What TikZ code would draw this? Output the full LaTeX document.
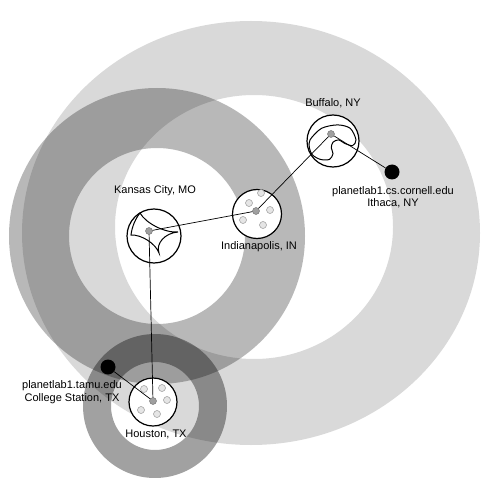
\documentclass[tikz,border=0pt]{standalone}
\usepackage{fontspec}
\setmainfont{Liberation Sans}
\begin{document}
\begin{tikzpicture}[x=1pt,y=-1pt,
  ring/.style={fill=black, even odd rule},
  site/.style={circle, draw, fill=white, line width=1.2pt, inner sep=0pt},
  hub/.style={circle, draw=gray!85!black, fill=gray!75, line width=0.4pt, minimum size=7pt, inner sep=0pt},
  probe/.style={circle, draw=gray!80, fill=gray!20, line width=0.5pt, minimum size=7pt, inner sep=0pt},
  landmark/.style={circle, fill=black, minimum size=15pt, inner sep=0pt},
  lbl/.style={align=center, font=\fontsize{11}{12.5}\selectfont, inner sep=0pt},
  link/.style={line width=0.7pt}]
\useasboundingbox (0,0) rectangle (481,478);

% distance constraint rings
\fill[ring, fill opacity=0.15] (251,233) ellipse [x radius=229, y radius=212]
  (254,227) ellipse [x radius=139, y radius=132];
\fill[ring, fill opacity=0.28] (157,236) circle [radius=148] (157,236) circle [radius=88];
\fill[ring, fill opacity=0.37] (155,406) circle [radius=72] (155,406) circle [radius=44];

% Buffalo
\node[site, minimum size=52pt] (buffalo) at (333,141) {};
\draw[line width=1pt, scale around={1.15:(333,141)}] plot[smooth cycle] coordinates {(313,140) (323,130) (337,127)
  (348,130) (353,140) (350,145) (343,143) (338,140) (333,142) (331.5,147) (333,152)
  (330,157) (322,157) (315,153) (312.5,147)};
\node[hub] (bufhub) at (331,134) {};
\node[lbl] (buflbl) at (333,103) {Buffalo, NY};

% Indianapolis
\node[site, minimum size=49pt] (indy) at (257,214) {};
\foreach \p [count=\i] in {(261,193),(249,203),(270,210),(243,220),(263,225)}
  \node[probe] (indyp\i) at \p {};
\node[hub] (indyhub) at (256,211) {};
\node[lbl] (indylbl) at (259,247) {Indianapolis, IN};

% Kansas City
\node[site, minimum size=54pt] (kansas) at (154,236) {};
\draw[line width=1pt] (140,213) .. controls (146,223.5) and (165,233) .. (178,232)
  .. controls (165,233) and (155.5,243.5) .. (159,253)
  .. controls (155.5,243.5) and (141.5,234.5) .. (131,235)
  .. controls (132,226) and (136,218) .. cycle;
\node[hub] (kchub) at (149,231) {};
\node[lbl] (kclbl) at (155,191) {Kansas City, MO};

% Houston
\node[site, minimum size=48pt] (houston) at (153,402) {};
\foreach \p [count=\i] in {(144,389),(162,388),(167,400),(141,410),(157,414)}
  \node[probe] (houp\i) at \p {};
\node[hub] (houhub) at (153,401) {};
\node[lbl] (houlbl) at (156,434) {Houston, TX};

% landmarks
\node[landmark] (cornell) at (392,172) {};
\node[lbl] (cornelllbl) at (393,197) {planetlab1.cs.cornell.edu\\Ithaca, NY};
\node[landmark] (tamu) at (108,367) {};
\node[lbl] (tamulbl) at (72,392) {planetlab1.tamu.edu\\College Station, TX};

% path
\draw[link] (bufhub) -- (cornell);
\draw[link] (bufhub) -- (indyhub);
\draw[link] (indyhub) -- (kchub);
\draw[link] (kchub) -- (houhub);
\draw[link] (houhub) -- (tamu);
\end{tikzpicture}
\end{document}
